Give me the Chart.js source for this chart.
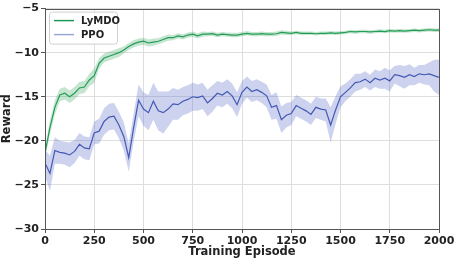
<!DOCTYPE html>
<html>
<head>
<meta charset="utf-8">
<script src="https://cdn.jsdelivr.net/npm/chart.js@4"></script>
<style>
  html, body { margin: 0; padding: 0; background: #fff; }
  canvas { display: block; }
</style>
</head>
<body>
<canvas id="graficoReward" width="457" height="259"></canvas>
<script>
// episodios (eixo x), um ponto a cada 25 episodios
const episodios = [];
for (let e = 0; e <= 2000; e += 25) episodios.push(e);

// media da recompensa do LyMDO
const lymdoMedia = [
  -21.4, -18.5, -16.2, -14.8, -14.6, -15.0, -14.6, -14.0, -13.9, -13.1,
  -12.6, -11.2, -10.6, -10.4, -10.2, -10.0, -9.7, -9.3, -9.0, -8.8,
  -8.7, -8.9, -8.8, -8.7, -8.5, -8.3, -8.3, -8.1, -8.2, -8.0,
  -7.9, -8.1, -7.9, -7.9, -7.85, -8.0, -7.9, -7.95, -8.0, -8.0,
  -7.9, -7.8, -7.9, -7.9, -7.85, -7.9, -7.9, -7.85, -7.7, -7.75,
  -7.8, -7.7, -7.8, -7.8, -7.8, -7.85, -7.8, -7.8, -7.75, -7.8,
  -7.75, -7.7, -7.6, -7.65, -7.6, -7.6, -7.65, -7.6, -7.55, -7.6,
  -7.5, -7.55, -7.5, -7.55, -7.5, -7.45, -7.5, -7.45, -7.4, -7.45,
  -7.45
];
// meia largura da faixa do LyMDO
const lymdoFaixa = [
  0.6, 0.8, 0.8, 0.7, 0.7, 0.7, 0.7, 0.7, 0.7, 0.7,
  0.8, 0.6, 0.5, 0.5, 0.5, 0.5, 0.4, 0.4, 0.4, 0.4,
  0.4, 0.4, 0.4, 0.35, 0.35, 0.35, 0.3, 0.3, 0.3, 0.3,
  0.3, 0.3, 0.3, 0.25, 0.25, 0.25, 0.25, 0.25, 0.25, 0.25,
  0.25, 0.25, 0.25, 0.25, 0.25, 0.25, 0.25, 0.25, 0.25, 0.25,
  0.2, 0.2, 0.2, 0.2, 0.2, 0.2, 0.2, 0.2, 0.2, 0.2,
  0.2, 0.2, 0.2, 0.2, 0.2, 0.2, 0.2, 0.2, 0.2, 0.2,
  0.2, 0.2, 0.2, 0.2, 0.2, 0.2, 0.2, 0.2, 0.2, 0.2,
  0.2
];
// media da recompensa do PPO
const ppoMedia = [
  -22.5, -23.7, -21.1, -21.3, -21.4, -21.6, -21.2, -20.4, -20.8, -20.9,
  -19.1, -18.9, -17.8, -17.3, -17.2, -18.2, -19.5, -21.9, -18.5, -15.4,
  -16.4, -16.8, -15.5, -16.6, -16.8, -16.4, -15.8, -15.9, -15.5, -15.3,
  -15.0, -15.1, -14.9, -15.7, -15.2, -14.6, -14.8, -14.4, -14.9, -15.9,
  -14.5, -13.9, -14.4, -14.2, -14.5, -14.9, -16.2, -16.0, -17.6, -17.1,
  -16.9, -16.0, -16.3, -16.6, -17.0, -16.2, -16.4, -16.5, -18.2, -16.5,
  -15.0, -14.5, -14.0, -13.4, -13.3, -13.0, -13.4, -12.9, -13.1, -12.9,
  -13.2, -12.5, -12.6, -12.8, -12.5, -12.7, -12.4, -12.5, -12.4, -12.6,
  -12.8
];
// meia largura da faixa do PPO
const ppoFaixa = [
  1.5, 2.0, 1.5, 1.3, 1.3, 1.4, 1.3, 1.3, 1.3, 1.3,
  1.3, 1.4, 1.5, 1.5, 1.5, 1.5, 1.6, 1.6, 1.6, 1.8,
  1.9, 2.0, 2.1, 2.2, 2.4, 2.0, 1.8, 1.7, 1.6, 1.6,
  1.6, 1.5, 1.5, 1.5, 1.5, 1.4, 1.4, 1.4, 1.4, 1.4,
  1.3, 1.2, 1.2, 1.2, 1.2, 1.3, 1.4, 1.5, 1.5, 1.4,
  1.3, 1.2, 1.2, 1.2, 1.2, 1.2, 1.2, 1.3, 2.0, 1.6,
  1.2, 1.0, 1.0, 1.0, 0.9, 0.9, 0.9, 1.0, 1.0, 1.2,
  1.2, 1.0, 1.2, 1.3, 1.2, 1.0, 1.0, 1.1, 1.3, 1.8,
  2.0
];

const eixoY = [-30, -25, -20, -15, -10, -5];
const eixoX = [0, 250, 500, 750, 1000, 1250, 1500, 1750, 2000];

// monta pontos {x, y} a partir das listas
function pontos(valores, desvio, sinal) {
  return episodios.map((ep, i) => ({ x: ep, y: valores[i] + sinal * (desvio ? desvio[i] : 0) }));
}

const corVerde = "#1f9a55";
const corVerdeFaixa = "rgba(46, 160, 90, 0.28)";
const corAzul = "#3a52ad";
const corAzulFaixa = "rgba(90, 105, 200, 0.30)";

// desenha a moldura e a legenda como no matplotlib
const molduraELegenda = {
  id: "molduraELegenda",
  afterDatasetsDraw(chart) {
    const ctx = chart.ctx;
    const a = chart.chartArea;
    ctx.save();
    ctx.strokeStyle = "#555";
    ctx.lineWidth = 1;
    ctx.strokeRect(Math.round(a.left) + 0.5, Math.round(a.top) + 0.5,
      Math.round(a.right - a.left), Math.round(a.bottom - a.top));

    // legenda
    const bx = a.left + 4, by = a.top + 3, bw = 68, bh = 32;
    ctx.fillStyle = "rgba(255,255,255,0.85)";
    ctx.strokeStyle = "#d0d0d0";
    ctx.beginPath();
    ctx.roundRect(bx + 0.5, by + 0.5, bw, bh, 3);
    ctx.fill();
    ctx.stroke();
    const itens = [
      { nome: "LyMDO", cor: corVerde },
      { nome: "PPO", cor: "#9aa6d6" }
    ];
    ctx.font = "bold 10px 'DejaVu Sans'";
    ctx.textBaseline = "middle";
    itens.forEach((it, i) => {
      const y = by + 9 + i * 14;
      ctx.strokeStyle = it.cor;
      ctx.lineWidth = 1.5;
      ctx.beginPath();
      ctx.moveTo(bx + 5, y);
      ctx.lineTo(bx + 25, y);
      ctx.stroke();
      ctx.fillStyle = "#222";
      ctx.fillText(it.nome, bx + 32, y + 1);
    });
    ctx.restore();
  }
};

const graficoReward = document.getElementById("graficoReward");

const graficoParaReward = new Chart(graficoReward, {
  type: "line",
  data: {
    datasets: [
      { label: "LyMDO sup", data: pontos(lymdoMedia, lymdoFaixa, 1), borderWidth: 0, pointRadius: 0, fill: "+1", backgroundColor: corVerdeFaixa },
      { label: "LyMDO inf", data: pontos(lymdoMedia, lymdoFaixa, -1), borderWidth: 0, pointRadius: 0, fill: false },
      { label: "PPO sup", data: pontos(ppoMedia, ppoFaixa, 1), borderWidth: 0, pointRadius: 0, fill: "+1", backgroundColor: corAzulFaixa },
      { label: "PPO inf", data: pontos(ppoMedia, ppoFaixa, -1), borderWidth: 0, pointRadius: 0, fill: false },
      { label: "LyMDO", data: pontos(lymdoMedia, null, 0), borderColor: corVerde, borderWidth: 1.2, pointRadius: 0, fill: false },
      { label: "PPO", data: pontos(ppoMedia, null, 0), borderColor: corAzul, borderWidth: 1.2, pointRadius: 0, fill: false }
    ]
  },
  options: {
    responsive: false,
    animation: false,
    layout: { padding: { top: 6, right: 18, left: 0, bottom: 0 } },
    plugins: {
      legend: { display: false },
      tooltip: { enabled: false }
    },
    scales: {
      x: {
        type: "linear",
        min: 0, max: 2000,
        afterBuildTicks: (s) => { s.ticks = eixoX.map(v => ({ value: v })); },
        afterFit: (s) => { s.height = 30; },
        ticks: {
          color: "#222", font: { family: "DejaVu Sans", weight: "bold", size: 11 }, padding: 2, maxRotation: 0,
          callback: (v) => String(v)
        },
        grid: { color: "#dedede", lineWidth: 1, tickLength: 4, tickColor: "#555" },
        border: { color: "#555" },
        title: { display: true, text: "Training Episode", color: "#222", font: { family: "DejaVu Sans", weight: "bold", size: 11.5 }, padding: 0 }
      },
      y: {
        min: -30, max: -5,
        afterBuildTicks: (s) => { s.ticks = eixoY.map(v => ({ value: v })); },
        afterFit: (s) => { s.width = 45; },
        ticks: {
          color: "#222", font: { family: "DejaVu Sans", weight: "bold", size: 11 }, padding: 2,
          callback: (v) => String(v).replace("-", "\u2212")
        },
        grid: { color: "#dedede", lineWidth: 1, tickLength: 4, tickColor: "#555" },
        border: { color: "#555" },
        title: { display: true, text: "Reward", color: "#222", font: { family: "DejaVu Sans", weight: "bold", size: 11.5 }, padding: 0 }
      }
    }
  },
  plugins: [molduraELegenda]
});
</script>
</body>
</html>
